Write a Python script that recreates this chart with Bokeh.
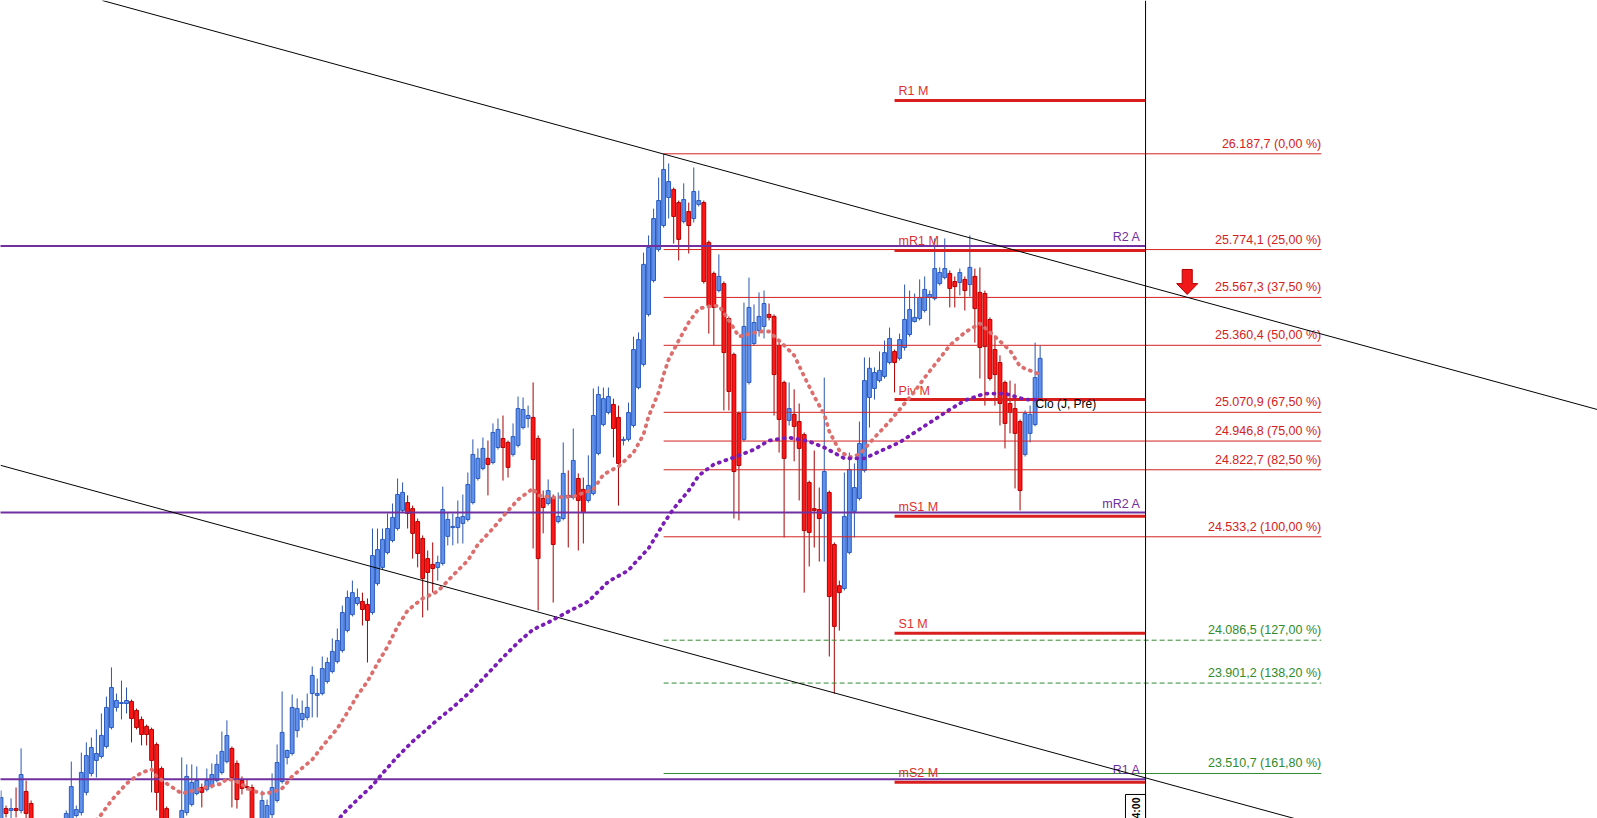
from bokeh.plotting import figure
from bokeh.models import Range1d, ColumnDataSource, Span
from bokeh.embed import file_html
from bokeh.resources import INLINE
from bokeh.core.properties import value

# ---------------- candle data (hourly bars) ----------------
opens = [23286, 23359, 23351, 23359, 23351, 23433, 23381, 23264, 23186, 23113,
         23156, 23213, 23256, 23286, 23316, 23329, 23342, 23429, 23511, 23567,
         23584, 23627, 23709, 23796, 23813, 23813, 23822, 23783, 23744, 23714,
         23701, 23636, 23532, 23359, 23243, 23199, 23286, 23342, 23377, 23424,
         23450, 23442, 23454, 23480, 23515, 23562, 23619, 23554, 23480, 23454,
         23450, 23264, 23221, 23264, 23333, 23394, 23476, 23580, 23597, 23696,
         23744, 23753, 23856, 23848, 23856, 23908, 23951, 23994, 24042, 24128,
         24197, 24245, 24254, 24241, 24206, 24331, 24401, 24465, 24517, 24569,
         24647, 24681, 24655, 24599, 24526, 24439, 24414, 24401, 24418, 24535,
         24573, 24573, 24591, 24608, 24681, 24785, 24828, 24872, 24854, 24919,
         24958, 24941, 24889, 24928, 25005, 25044, 25049, 24958, 24699, 24677,
         24703, 24599, 24612, 24712, 24703, 24785, 24738, 24690, 24720, 24893,
         25018, 25070, 25105, 25049, 24949, 24954, 25014, 25178, 25278, 25494,
         25640, 25774, 25878, 25999, 26034, 25977, 25895, 25938, 25908, 25969,
         25977, 25805, 25671, 25597, 25627, 25476, 25321, 25066, 24954, 25200,
         25368, 25424, 25442, 25494, 25485, 25360, 25200, 25036, 25062, 25031,
         24975, 24768, 24655, 24651, 24634, 24725, 24500, 24322, 24310, 24465,
         24643, 24699, 24820, 25135, 25174, 25208, 25226, 25286, 25334, 25304,
         25351, 25407, 25463, 25476, 25511, 25567, 25563, 25627, 25653, 25671,
         25636, 25632, 25645, 25623, 25658, 25589, 25584, 25472, 25342, 25286,
         25200, 25109, 25087, 25031, 24889, 24980, 25018, 25126]
highs = [23437, 23372, 23403, 23450, 23619, 23480, 23394, 23273, 23199, 23178,
         23230, 23273, 23316, 23351, 23562, 23372, 23601, 23645, 23666, 23701,
         23770, 23843, 23969, 23856, 23912, 23882, 23830, 23791, 23757, 23722,
         23709, 23645, 23541, 23368, 23264, 23273, 23580, 23550, 23550, 23541,
         23467, 23532, 23554, 23593, 23692, 23740, 23627, 23567, 23498, 23485,
         23463, 23273, 23437, 23398, 23511, 23636, 23865, 23614, 23852, 23835,
         23826, 23856, 23973, 23921, 24016, 24012, 24094, 24137, 24236, 24301,
         24344, 24310, 24292, 24267, 24569, 24569, 24569, 24634, 24677, 24785,
         24768, 24712, 24668, 24612, 24539, 24474, 24509, 24452, 24750, 24638,
         24634, 24690, 24716, 24811, 24954, 24915, 24962, 24949, 25023, 25044,
         25057, 24949, 25023, 25139, 25135, 25100, 25200, 24971, 24733, 24781,
         24716, 24725, 24941, 24820, 25001, 24807, 24789, 24885, 25174, 25183,
         25178, 25178, 25130, 25100, 24966, 25113, 25398, 25416, 25761, 25835,
         25951, 26085, 26188, 26146, 26042, 25986, 26060, 25977, 26129, 26029,
         25986, 25813, 25679, 25753, 25636, 25485, 25329, 25074, 25545, 25653,
         25537, 25589, 25597, 25541, 25494, 25372, 25208, 25200, 25170, 25109,
         24984, 24776, 24906, 24746, 25221, 24733, 24509, 24344, 24811, 24897,
         24850, 25031, 25308, 25308, 25265, 25334, 25381, 25437, 25342, 25411,
         25623, 25597, 25584, 25645, 25658, 25597, 25822, 25697, 25822, 25684,
         25658, 25692, 25658, 25835, 25692, 25697, 25597, 25481, 25403, 25317,
         25208, 25208, 25195, 25040, 25079, 25100, 25372, 25360]
lows = [23264, 23321, 23316, 23321, 23338, 23308, 23243, 23169, 23092, 23083,
        23135, 23195, 23238, 23264, 23308, 23321, 23329, 23416, 23498, 23493,
        23575, 23619, 23701, 23778, 23744, 23770, 23645, 23701, 23632, 23632,
        23429, 23351, 23282, 23213, 23178, 23186, 23273, 23329, 23368, 23416,
        23364, 23433, 23446, 23472, 23506, 23554, 23364, 23359, 23420, 23437,
        23243, 23199, 23199, 23243, 23316, 23385, 23467, 23550, 23588, 23666,
        23709, 23740, 23753, 23753, 23848, 23899, 23943, 23986, 24033, 24120,
        24189, 24236, 24150, 23990, 24197, 24322, 24392, 24457, 24509, 24560,
        24638, 24569, 24439, 24401, 24185, 24215, 24292, 24344, 24409, 24496,
        24496, 24504, 24504, 24599, 24673, 24776, 24820, 24712, 24846, 24910,
        24776, 24789, 24880, 24919, 24997, 25005, 24483, 24215, 24548, 24668,
        24249, 24591, 24604, 24487, 24694, 24474, 24504, 24681, 24712, 24885,
        25010, 25062, 24876, 24668, 24928, 24945, 25005, 25170, 25269, 25485,
        25632, 25765, 25869, 25908, 25800, 25727, 25887, 25757, 25891, 25960,
        25627, 25411, 25360, 25589, 25079, 25079, 24612, 24604, 24945, 25191,
        25359, 25398, 25390, 25468, 25057, 24897, 24530, 25014, 24859, 24690,
        24292, 24405, 24487, 24426, 24426, 24016, 23856, 24128, 24301, 24457,
        24530, 24690, 24811, 25005, 25126, 25200, 25217, 25278, 25157, 25295,
        25338, 25398, 25459, 25468, 25502, 25446, 25554, 25619, 25645, 25524,
        25524, 25576, 25511, 25571, 25372, 25217, 25100, 25208, 25100, 25014,
        24915, 24980, 24742, 24647, 24880, 24941, 25010, 25122]
closes = [23407, 23338, 23359, 23351, 23506, 23338, 23264, 23186, 23113, 23156,
          23213, 23256, 23299, 23338, 23454, 23355, 23515, 23588, 23623, 23597,
          23675, 23796, 23882, 23826, 23817, 23826, 23748, 23709, 23679, 23679,
          23567, 23429, 23299, 23243, 23199, 23264, 23351, 23498, 23472, 23480,
          23429, 23480, 23506, 23550, 23606, 23675, 23493, 23398, 23446, 23450,
          23264, 23221, 23394, 23372, 23450, 23558, 23688, 23610, 23796, 23791,
          23770, 23796, 23934, 23856, 23964, 23990, 24038, 24085, 24206, 24271,
          24292, 24271, 24219, 24172, 24452, 24478, 24522, 24569, 24617, 24716,
          24725, 24634, 24548, 24461, 24353, 24379, 24396, 24422, 24651, 24608,
          24578, 24617, 24621, 24759, 24889, 24872, 24915, 24846, 24984, 24997,
          24919, 24833, 24966, 25087, 25083, 25057, 24867, 24439, 24660, 24733,
          24500, 24621, 24807, 24703, 24863, 24690, 24638, 24755, 25057, 25148,
          25130, 25139, 25001, 24850, 24954, 25070, 25342, 25385, 25710, 25783,
          25908, 25986, 26120, 26068, 25917, 25818, 25990, 25878, 26025, 25986,
          25636, 25532, 25524, 25658, 25329, 25161, 24815, 24841, 25442, 25524,
          25459, 25485, 25541, 25481, 25234, 25040, 24872, 25087, 25010, 24915,
          24560, 24552, 24647, 24612, 24815, 24275, 24146, 24292, 24621, 24824,
          24746, 24936, 25208, 25261, 25243, 25252, 25329, 25390, 25286, 25385,
          25472, 25515, 25481, 25567, 25602, 25580, 25692, 25675, 25692, 25606,
          25614, 25675, 25597, 25697, 25519, 25351, 25355, 25217, 25234, 25109,
          25023, 25070, 24980, 24733, 25066, 25062, 25221, 25304]

# ---------------- moving averages (read at sample bars) ----------------
ma_fast_idx = [18, 20, 22, 25, 28, 30, 31, 33, 36, 40, 44, 45, 47, 50, 52, 54, 56, 58,
               62, 64, 67, 69, 71, 73, 75, 77, 79, 81, 84, 87, 90, 93, 95, 98, 100,
               103, 106, 107, 110, 114, 118, 120, 123, 126, 128, 129, 131, 132, 133,
               135, 137, 139, 141, 143, 145, 147, 151, 153, 156, 158, 160, 162, 164,
               165, 167, 169, 171, 174, 177, 179, 182, 184, 187, 189, 192, 195, 198,
               201, 203, 207]
ma_fast_val = [23286, 23334, 23394, 23467, 23515, 23528, 23498, 23467, 23424, 23446,
               23467, 23489, 23476, 23437, 23424, 23429, 23446, 23498, 23571, 23627,
               23705, 23774, 23848, 23908, 23986, 24059, 24146, 24215, 24267, 24297,
               24366, 24431, 24500, 24569, 24621, 24694, 24742, 24712, 24703, 24707,
               24738, 24802, 24837, 24897, 24975, 25053, 25157, 25234, 25299, 25381,
               25459, 25519, 25528, 25532, 25468, 25398, 25420, 25420, 25360, 25317,
               25226, 25139, 25062, 24988, 24906, 24876, 24889, 24962, 25031, 25083,
               25161, 25221, 25304, 25360, 25416, 25455, 25398, 25338, 25269, 25234]
ma_slow_idx = [66, 68, 71, 74, 76, 79, 82, 85, 87, 90, 94, 97, 100, 103, 106, 109,
               113, 117, 121, 125, 126, 129, 132, 134, 137, 139, 142, 146, 150, 153,
               157, 161, 164, 168, 172, 175, 179, 182, 186, 189, 192, 196, 200, 204, 207]
ma_slow_val = [23273, 23334, 23398, 23459, 23511, 23584, 23649, 23705, 23744, 23796,
               23874, 23943, 24012, 24077, 24133, 24163, 24210, 24254, 24340, 24388,
               24414, 24483, 24591, 24655, 24733, 24798, 24846, 24876, 24910, 24949,
               24962, 24945, 24919, 24872, 24872, 24902, 24941, 24984, 25040, 25083,
               25122, 25152, 25152, 25126, 25126]

# ---------------- Fibonacci retracement ----------------
fib_levels = [26187.7, 25774.1, 25567.3, 25360.4, 25070.9, 24946.8, 24822.7,
              24533.2, 24086.5, 23901.2, 23510.7]
fib_texts = ["26.187,7 (0,00 %)", "25.774,1 (25,00 %)", "25.567,3 (37,50 %)",
             "25.360,4 (50,00 %)", "25.070,9 (67,50 %)", "24.946,8 (75,00 %)",
             "24.822,7 (82,50 %)", "24.533,2 (100,00 %)", "24.086,5 (127,00 %)",
             "23.901,2 (138,20 %)", "23.510,7 (161,80 %)"]
fib_kind = ["red"] * 8 + ["green_dash", "green_dash", "green"]
fib_start, fib_end = 132, 263

# ---------------- pivot points ----------------
piv_m_names = ["R1 M", "mR1 M", "Piv M", "mS1 M", "S1 M", "mS2 M"]
piv_m_vals = [26418, 25770, 25126, 24622, 24117, 23473]
piv_a_names = ["R2 A", "mR2 A", "R1 A"]
piv_a_vals = [25789, 24638, 23486]
piv_m_start, now_bar = 178, 228

# ---------------- trend lines (bar index, price) ----------------
trend_up_x = [20.2, 318.0]
trend_up_y = [26850, 25083]
trend_lo_x = [-0.1, 318.0]
trend_lo_y = [24842, 22959]

# annotations
clo_x, clo_y, clo_text = 206.1, 25105, "Clo (J, Pré)"
arrow_x, arrow_top, arrow_neck, arrow_tip = 236.3, 25688, 25627, 25580
time_text = "4:00"
time_box_top = 23420

RED_LINE = "#D42222"
GREEN_LINE = "#2E8B2E"
PURPLE = "#7030A0"
FONT = "Liberation Sans"

n = len(opens)
idx = list(range(n))
up = [c >= o for o, c in zip(opens, closes)]
src = ColumnDataSource(dict(
    x=idx, h=highs, l=lows,
    top=[max(o, c) for o, c in zip(opens, closes)],
    bot=[min(o, c) for o, c in zip(opens, closes)],
    fill=["#5F90EC" if u else "#FF1616" for u in up],
    edge=["#2B5BBE" if u else "#B00000" for u in up],
    wick=["#2A56B0" if u else "#A80000" for u in up],
))

p = figure(width=1597, height=818,
           x_range=Range1d(-0.1, 318.03), y_range=Range1d(23316.2, 26850.0),
           output_backend="svg", toolbar_location=None,
           x_axis_location=None, y_axis_location=None, min_border=0)
p.grid.visible = False
p.outline_line_color = None
p.background_fill_color = "white"

# candles
p.segment(x0="x", x1="x", y0="h", y1="l", line_color="wick", line_width=1, source=src)
p.vbar(x="x", top="top", bottom="bot", width=0.76, fill_color="fill",
       line_color="edge", line_width=1, source=src)

# fibonacci lines
for lvl, txt, kind in zip(fib_levels, fib_texts, fib_kind):
    col = RED_LINE if kind == "red" else GREEN_LINE
    dash = "5 3" if kind == "green_dash" else "solid"
    p.segment(x0=[fib_start], x1=[fib_end], y0=[lvl], y1=[lvl],
              line_color=col, line_width=1, line_dash=dash)
    p.text(x=[fib_end], y=[lvl], text=[txt], text_align="right",
           text_baseline="bottom", y_offset=-3, text_color=col,
           text_font=value(FONT), text_font_size="12.5px")

# monthly pivots (red thick)
for name, v in zip(piv_m_names, piv_m_vals):
    p.segment(x0=[piv_m_start], x1=[now_bar], y0=[v], y1=[v],
              line_color="#D91E1E", line_width=3)
    p.text(x=[piv_m_start], y=[v], text=[name], x_offset=4, y_offset=-2,
           text_baseline="bottom", text_align="left", text_color="#E03030",
           text_font=value(FONT), text_font_size="12.5px")

# annual pivots (purple)
for name, v in zip(piv_a_names, piv_a_vals):
    p.segment(x0=[-5], x1=[now_bar], y0=[v], y1=[v], line_color=PURPLE, line_width=2)
    p.text(x=[now_bar], y=[v], text=[name], x_offset=-5, y_offset=-2,
           text_baseline="bottom", text_align="right", text_color=PURPLE,
           text_font=value(FONT), text_font_size="12.5px")

# trend lines
p.line(trend_up_x, trend_up_y, line_color="black", line_width=1)
p.line(trend_lo_x, trend_lo_y, line_color="black", line_width=1)

# moving averages (dotted, round dots)
p.line(ma_fast_idx, ma_fast_val, line_color="#DC6E6E", line_width=3.8,
       line_dash="1 6", line_cap="round")
p.line(ma_slow_idx, ma_slow_val, line_color="#7A1DB6", line_width=3.8,
       line_dash="1 6", line_cap="round")

# current-time vertical line
p.add_layout(Span(location=now_bar, dimension="height", line_color="black", line_width=1))

# labels
p.text(x=[clo_x], y=[clo_y], text=[clo_text], text_align="left", text_baseline="middle",
       text_color="black", text_font=value(FONT), text_font_size="12px")

# red arrow
hw_shaft, hw_head = 1.0, 2.1
p.patch([arrow_x - hw_shaft, arrow_x + hw_shaft, arrow_x + hw_shaft, arrow_x + hw_head,
         arrow_x, arrow_x - hw_head, arrow_x - hw_shaft],
        [arrow_top, arrow_top, arrow_neck, arrow_neck, arrow_tip, arrow_neck, arrow_neck],
        fill_color="#F01818", line_color="#B00000", line_width=1)

# time label box at the bottom of the vertical line
p.quad(left=[now_bar - 4.0], right=[now_bar], top=[time_box_top], bottom=[23200],
       fill_color="white", line_color="black", line_width=1)
p.text(x=[now_bar - 2.0], y=[time_box_top], text=[time_text], angle=1.5708,
       text_align="right", text_baseline="middle", y_offset=3, text_color="black",
       text_font=value(FONT), text_font_size="10.5px", text_font_style="bold")

open("out.html", "w").write(file_html(p, INLINE))
